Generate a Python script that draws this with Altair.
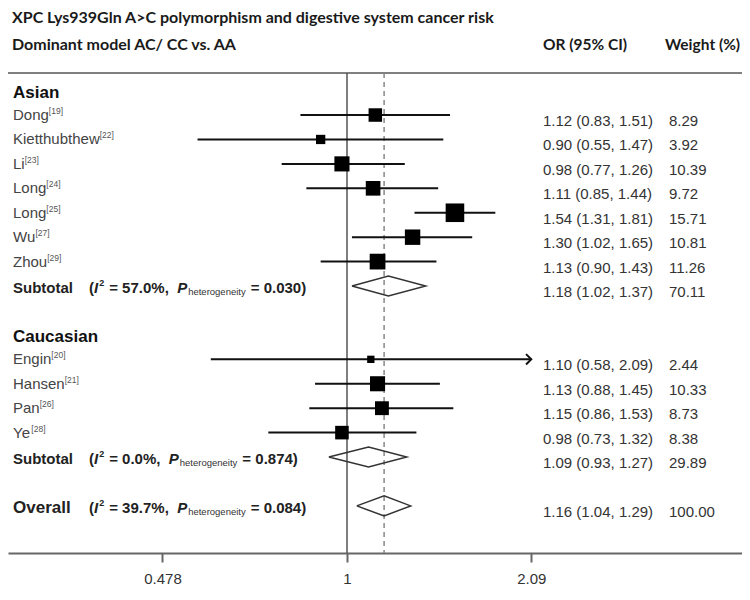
import math
import altair as alt
import pandas as pd

# ---------------- data ----------------
title_text = "XPC Lys939Gln A>C polymorphism and digestive system cancer risk"
model_text = "Dominant model AC/ CC vs. AA"
col_headers = ["OR (95% CI)", "Weight (%)"]

groups = ["Asian", "Caucasian"]
asian_names = ["Dong", "Kietthubthew", "Li", "Long", "Long", "Wu", "Zhou"]
asian_refs = ["[19]", "[22]", "[23]", "[24]", "[25]", "[27]", "[29]"]
asian_or = [1.12, 0.90, 0.98, 1.11, 1.54, 1.30, 1.13]
asian_lo = [0.83, 0.55, 0.77, 0.85, 1.31, 1.02, 0.90]
asian_hi = [1.51, 1.47, 1.26, 1.44, 1.81, 1.65, 1.43]
asian_w = [8.29, 3.92, 10.39, 9.72, 15.71, 10.81, 11.26]

cauc_names = ["Engin", "Hansen", "Pan", "Ye"]
cauc_refs = ["[20]", "[21]", "[26]", "[28]"]
cauc_or = [1.10, 1.13, 1.15, 0.98]
cauc_lo = [0.58, 0.88, 0.86, 0.73]
cauc_hi = [2.09, 1.45, 1.53, 1.32]
cauc_w = [2.44, 10.33, 8.73, 8.38]

summary_labels = ["Subtotal", "Subtotal", "Overall"]
summary_or = [1.18, 1.09, 1.16]
summary_lo = [1.02, 0.93, 1.04]
summary_hi = [1.37, 1.27, 1.29]
summary_w = [70.11, 29.89, 100.00]
summary_i2 = ["57.0%", "0.0%", "39.7%"]
summary_p = ["0.030", "0.874", "0.084"]

x_ticks = [0.478, 1, 2.09]

# ---------------- layout ----------------
W, H = 734, 545
LN_PX = 250.0          # pixels per natural-log unit
ONE_X = 339.0          # pixel position of OR = 1
ROW0 = 82.6            # pixel of row 0 (chart coords)
ROW_STEP = 24.43
TOP_LINE = 65
FONT = "Liberation Sans"
HFONT = "Lato"

xscale = alt.Scale(type="log", domain=[math.exp(-ONE_X / LN_PX), math.exp((W - ONE_X) / LN_PX)],
                   range=[0, W], nice=False, zero=False)
yscale = alt.Scale(domain=[(0 - ROW0) / ROW_STEP, (H - ROW0) / ROW_STEP], reverse=True, nice=False, zero=False)
xaxis = alt.Axis(values=x_ticks, format="~g", title=None, grid=False, domainColor="#666", domainWidth=2,
                 tickColor="#666", tickWidth=2, tickSize=9, labelFont=FONT, labelFontSize=15,
                 labelColor="#333", labelPadding=9, labelFlush=False, labelOverlap=False)


def X(field):
    return alt.X(field, type="quantitative", scale=xscale, axis=xaxis)


def Y(field="row"):
    return alt.Y(field, type="quantitative", scale=yscale, axis=None)


REG = {' ': 278, '(': 333, ')': 333, '[': 278, ']': 278, ',': 278, '.': 278, '%': 889, '=': 584, '/': 278,
       'A': 667, 'C': 722, 'D': 722, 'E': 667, 'H': 722, 'I': 278, 'K': 667, 'L': 556, 'O': 778, 'P': 667,
       'W': 944, 'Y': 667, 'Z': 611, 'a': 556, 'b': 556, 'c': 500, 'd': 556, 'e': 556, 'f': 278, 'g': 556,
       'h': 556, 'i': 222, 'k': 500, 'l': 222, 'm': 833, 'n': 556, 'o': 556, 'p': 556, 'r': 333, 's': 500,
       't': 278, 'u': 556, 'v': 500, 'w': 722, 'y': 500}
BOLD = {' ': 278, '(': 333, ')': 333, ',': 278, '.': 278, '%': 889, '=': 584, 'I': 278, 'P': 667, 'S': 667,
        'O': 778, 'A': 722, 'C': 722, 'a': 556, 'b': 611, 'c': 556, 'e': 556, 'g': 611, 'h': 611, 'i': 278,
        'l': 278, 'n': 611, 'o': 611, 'r': 389, 's': 556, 't': 333, 'u': 611, 'v': 556, 'y': 556}


def text_width(s, size, bold=False):
    table = BOLD if bold else REG
    return sum(table.get(c, 556) for c in s) * size / 1000.0


# ---------------- build tables ----------------
study_rows, header_rows, sum_rows = [], [], []
r = 0
group_data = [
    (asian_names, asian_refs, asian_or, asian_lo, asian_hi, asian_w),
    (cauc_names, cauc_refs, cauc_or, cauc_lo, cauc_hi, cauc_w),
]
for g, gd in zip(groups, group_data):
    header_rows.append({"label": g, "row": r})
    r += 1
    for n, ref, o, lo, hi, w in zip(*gd):
        study_rows.append({"name": n, "ref": ref, "or": o, "lo": lo, "hi": hi, "w": w, "row": r,
                           "sup_x": 5 + text_width(n, 15),
                           "ci": f"{o:.2f} ({lo:.2f}, {hi:.2f})", "wt": f"{w:.2f}"})
        r += 1
    sum_rows.append(r)
    r += 2
sum_rows.append(r)

summ = pd.DataFrame({"label": summary_labels, "or": summary_or, "lo": summary_lo, "hi": summary_hi,
                     "w": summary_w, "row": sum_rows})
summ["ci"] = [f"{o:.2f} ({lo:.2f}, {hi:.2f})" for o, lo, hi in zip(summary_or, summary_lo, summary_hi)]
summ["wt"] = [f"{w:.2f}" for w in summary_w]

studies = pd.DataFrame(study_rows)
headers = pd.DataFrame(header_rows)

# diamonds
HALF = 10.0 / ROW_STEP
dia = []
for i, (o, lo, hi, rr) in enumerate(zip(summary_or, summary_lo, summary_hi, sum_rows)):
    pts = [(lo, rr), (o, rr - HALF), (hi, rr), (o, rr + HALF), (lo, rr)]
    for k, (xx, yy) in enumerate(pts):
        dia.append({"id": i, "k": k, "x": xx, "y": yy})
dia = pd.DataFrame(dia)

# heterogeneity segments
seg = []
for lab, i2, p, rr in zip(summary_labels, summary_i2, summary_p, sum_rows):
    parts = [("(", "b"), ("I", "bi"), ("2", "sup"), (f"= {i2},  ", "b"), ("P", "bi"),
             ("heterogeneity", "sub"), (f"= {p})", "b")]
    x = 81.0
    for t, st in parts:
        seg.append({"t": t, "st": st, "px": x, "row": rr})
        if st in ("b", "bi"):
            x += text_width(t, 15, True) + (1 if st == "bi" else 0)
        elif st == "sup":
            x += text_width(t, 9, True) + 5
        else:
            x += text_width(t, 9.5, False) + 5
seg = pd.DataFrame(seg)

arrows = studies[studies["hi"] >= max(x_ticks)]

# ---------------- layers ----------------
layers = []
base_s = alt.Chart(studies)
one = pd.DataFrame({"a": [0]})

layers.append(alt.Chart(one).mark_rule(color="#808080", strokeWidth=2).encode(
    x=alt.value(0), x2=alt.value(W), y=alt.value(TOP_LINE)))

layers.append(alt.Chart(one).mark_rule(color="#555", strokeWidth=1.5).encode(
    x=alt.XDatum(1, type="quantitative", scale=xscale, axis=xaxis), y=alt.value(TOP_LINE), y2=alt.value(H)))

layers.append(alt.Chart(one).mark_rule(color="#888", strokeWidth=1.5, strokeDash=[5, 4]).encode(
    x=alt.XDatum(summary_or[-1], type="quantitative", scale=xscale, axis=xaxis),
    y=alt.value(TOP_LINE), y2=alt.value(H)))

layers.append(base_s.mark_rule(color="#111", strokeWidth=2).encode(x=X("lo"), x2="hi", y=Y()))

layers.append(base_s.mark_square(color="#000", filled=True, opacity=1).encode(
    x=X("or"), y=Y(),
    size=alt.Size("w:Q", scale=alt.Scale(type="linear", domain=[0, 16], range=[0, 16 * 22]), legend=None)))

layers.append(alt.Chart(arrows).mark_point(shape="M -1 -1 L 0 0 L -1 1", filled=False, color="#111",
                                            strokeWidth=2, size=110, opacity=1).encode(x=X("hi"), y=Y()))

layers.append(alt.Chart(dia).mark_line(color="#333", strokeWidth=1.5).encode(
    x=X("x"), y=Y("y"), detail="id:N", order="k:Q"))

# left text
layers.append(alt.Chart(headers).mark_text(align="left", baseline="middle", font=FONT, fontSize=17,
                                           fontWeight="bold", color="#111", dy=2).encode(
    x=alt.value(5), y=Y(), text="label:N"))
layers.append(base_s.mark_text(align="left", baseline="middle", font=FONT, fontSize=15, color="#444").encode(
    x=alt.value(5), y=Y(), text="name:N"))
layers.append(base_s.mark_text(align="left", baseline="middle", font=FONT, fontSize=8.5, color="#555",
                               dy=-4).encode(
    x=alt.X("sup_x:Q", scale=None), y=Y(), text="ref:N"))

base_sum = alt.Chart(summ)
layers.append(base_sum.transform_filter(alt.datum.label == "Subtotal").mark_text(
    align="left", baseline="middle", font=FONT, fontSize=15, fontWeight="bold", color="#222", dy=2).encode(
    x=alt.value(5), y=Y(), text="label:N"))
layers.append(base_sum.transform_filter(alt.datum.label == "Overall").mark_text(
    align="left", baseline="middle", font=FONT, fontSize=17, fontWeight="bold", color="#222", dy=2).encode(
    x=alt.value(5), y=Y(), text="label:N"))

seg_base = alt.Chart(seg)
layers.append(seg_base.transform_filter(alt.datum.st == "b").mark_text(
    align="left", baseline="middle", font=FONT, fontSize=15, fontWeight="bold", color="#222", dy=2).encode(
    x=alt.X("px:Q", scale=None), y=Y(), text="t:N"))
layers.append(seg_base.transform_filter(alt.datum.st == "bi").mark_text(
    align="left", baseline="middle", font=FONT, fontSize=15, fontWeight="bold", fontStyle="italic",
    color="#222", dy=2).encode(x=alt.X("px:Q", scale=None), y=Y(), text="t:N"))
layers.append(seg_base.transform_filter(alt.datum.st == "sup").mark_text(
    align="left", baseline="middle", font=FONT, fontSize=9, fontWeight="bold", color="#222", dy=-3).encode(
    x=alt.X("px:Q", scale=None), y=Y(), text="t:N"))
layers.append(seg_base.transform_filter(alt.datum.st == "sub").mark_text(
    align="left", baseline="middle", font=FONT, fontSize=9.5, color="#333", dy=6).encode(
    x=alt.X("px:Q", scale=None), y=Y(), text="t:N"))

# right columns
for df in (studies, summ):
    layers.append(alt.Chart(df).mark_text(align="left", baseline="middle", font=FONT, fontSize=15,
                                          color="#333", dy=6).encode(x=alt.value(535), y=Y(), text="ci:N"))
    layers.append(alt.Chart(df).mark_text(align="left", baseline="middle", font=FONT, fontSize=15,
                                          color="#333", dy=6).encode(x=alt.value(661), y=Y(), text="wt:N"))

# headers
hdr_main = pd.DataFrame({"t": [title_text, model_text], "px": [4, 4], "py": [10, 37]})
layers.append(alt.Chart(hdr_main).mark_text(align="left", baseline="middle", font=HFONT, fontSize=16,
                                            fontWeight="bold", color="#1a1a1a").encode(
    x=alt.X("px:Q", scale=None), y=alt.Y("py:Q", scale=None), text="t:N"))
hdr_cols = pd.DataFrame({"t": col_headers, "px": [535, 657], "py": [37, 37]})
layers.append(alt.Chart(hdr_cols).mark_text(align="left", baseline="middle", font=HFONT, fontSize=15.5,
                                            fontWeight="bold", color="#1a1a1a").encode(
    x=alt.X("px:Q", scale=None), y=alt.Y("py:Q", scale=None), text="t:N"))

chart = alt.layer(*layers).properties(
    width=W, height=H,
    autosize=alt.AutoSizeParams(type="none"),
    padding={"left": 0, "top": 0, "right": 0, "bottom": 45},
    background="white",
).configure_view(stroke=None)

chart.save("out.html", embed_options={"renderer": "svg", "actions": False})
